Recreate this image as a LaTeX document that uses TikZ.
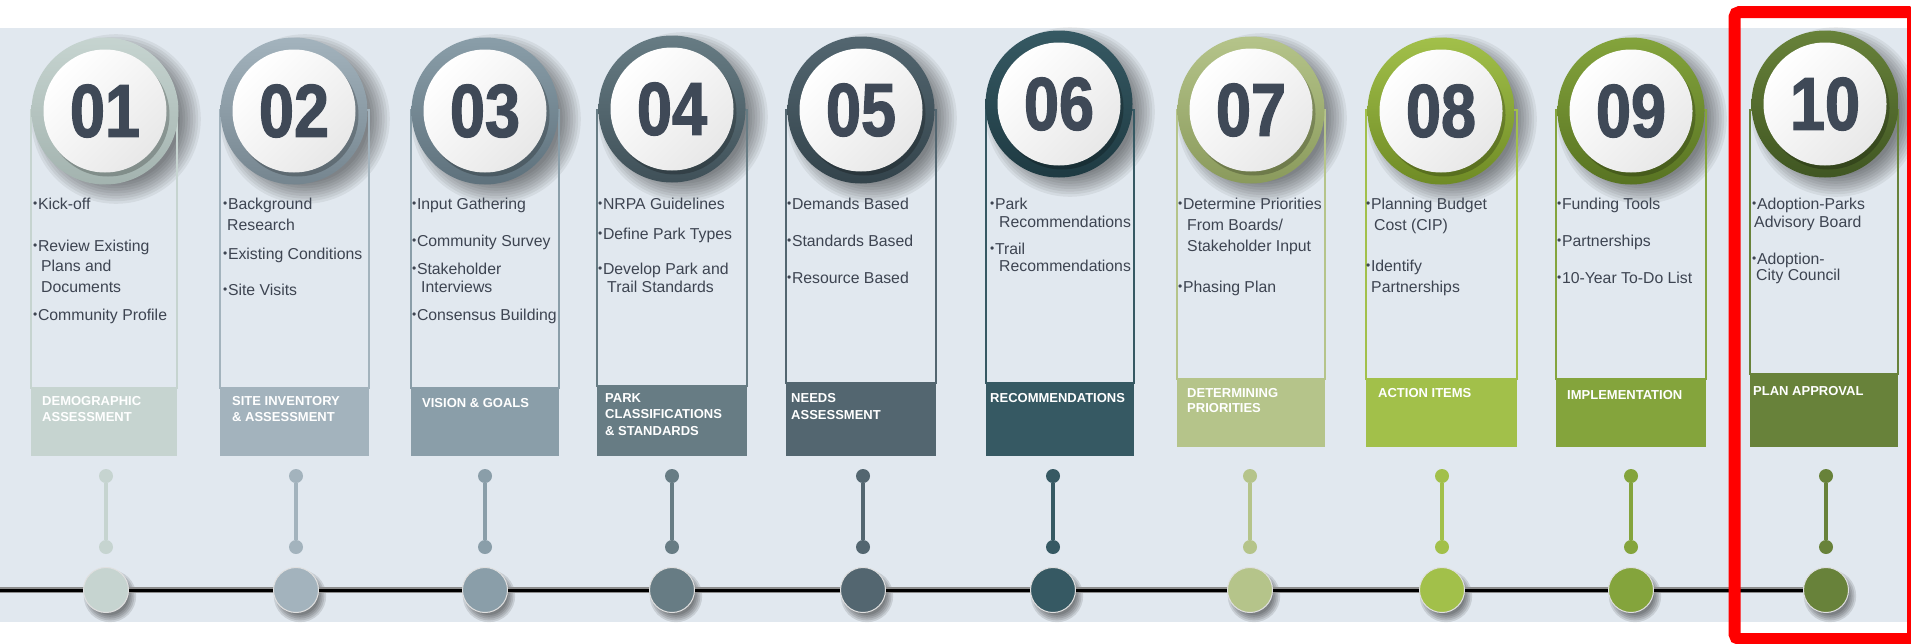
\documentclass[tikz,border=0pt]{standalone}
\usepackage{fontspec}
\usepackage{graphicx}
\setmainfont{Liberation Sans}
\newfontfamily\numfont{Liberation Sans}[FakeStretch=0.84,BoldFeatures={FakeBold=1.6}]
\pgfdeclarelayer{bg}
\pgfdeclarelayer{back}
\pgfsetlayers{bg,back,main}
\definecolor{bgc}{HTML}{E1E8EF}
\definecolor{txt}{HTML}{3D4451}
\definecolor{numc}{HTML}{3F4957}
\definecolor{c01}{HTML}{C6D4D0}\definecolor{d01}{HTML}{A3B3AF}
\definecolor{c02}{HTML}{A3B3BD}\definecolor{d02}{HTML}{75858F}
\definecolor{c03}{HTML}{8A9EA9}\definecolor{d03}{HTML}{5E717C}
\definecolor{c04}{HTML}{677C84}\definecolor{d04}{HTML}{3F5058}
\definecolor{c05}{HTML}{536670}\definecolor{d05}{HTML}{33434B}
\definecolor{c06}{HTML}{365963}\definecolor{d06}{HTML}{1E3A42}
\definecolor{c07}{HTML}{B5C48A}\definecolor{d07}{HTML}{8A9A5C}
\definecolor{c08}{HTML}{A2C04A}\definecolor{d08}{HTML}{6F8B25}
\definecolor{c09}{HTML}{84A43C}\definecolor{d09}{HTML}{587322}
\definecolor{c10}{HTML}{68823A}\definecolor{d10}{HTML}{405622}
\newcommand\blk[2]{\vtop{\baselineskip=#1pt\relax\lineskiplimit=-20pt\relax #2}}
\newcommand\Row[2][0]{\hbox{\hskip#1pt #2}}
\newcommand\bul{\raisebox{1.7pt}{\fontsize{12}{12}\selectfont\textbullet}\hskip0.6pt}
\begin{document}
\begin{tikzpicture}[x=1pt,y=-1pt,
  ring/.style={circle,minimum size=147pt,inner sep=0pt,shading angle=45},
  face/.style={circle,minimum size=123pt,inner sep=0pt,top color=white,bottom color=black!9,shading angle=45},
  num/.style={inner sep=0pt,text=numc,font=\numfont\bfseries\fontsize{75}{75}\selectfont},
  dot/.style={circle,minimum size=14pt,inner sep=0pt},
  big/.style={circle,minimum size=45pt,inner sep=0pt,draw=black!12,line width=1pt},
  softsh/.style={fill=black,opacity=0.06},
  dotsh/.style={fill=black,opacity=0.11},
  item/.style={anchor=base west,inner sep=0pt,text=txt,font=\fontsize{15.8}{19}\selectfont},
  lab/.style={anchor=base west,inner sep=0pt,text=white,font=\fontsize{13}{16}\selectfont\bfseries}]
\useasboundingbox (0,0) rectangle (1911,643);
\begin{pgfonlayer}{bg}
\fill[white] (0,0) rectangle (1911,643);
\fill[bgc] (0,28) rectangle (1907,622);
\end{pgfonlayer}
\coordinate (tl0) at (0,590);
\foreach \n/\cx/\cy/\l/\r/\bt/\bb/\sx in {
 01/105/111/31/177/388/456/106,
 02/294/111/220/369/388/456/296,
 03/485/111/411/559/388/456/485,
 04/672/109/597/747/386/456/672,
 05/861/110/786/936/383/456/863,
 06/1059/104/986/1134/383/456/1053,
 07/1251/110/1177/1325/379/447/1250,
 08/1441/111/1366/1517/379/447/1442,
 09/1631/111/1556/1706/379/447/1631,
 10/1825/104/1750/1898/374/447/1826}{
  \begin{pgfonlayer}{back}
   \foreach \k in {0,...,8}{
     \path[softsh] (\cx+11,\cy+8) circle[radius=64pt+2.6pt*\k];
   }
   \foreach \k in {0,...,4}{
     \path[dotsh] (\sx+4,596) circle[radius=19pt+1.8pt*\k];
   }
  \end{pgfonlayer}
  \draw[c\n,line width=1.2pt] (\l,110) rectangle (\r,\bt);
  \fill[c\n] (\l,\bt) rectangle (\r,\bb);
  \node[ring,top color=c\n,bottom color=d\n] (r\n) at (\cx,\cy) {};
  \fill[black,opacity=.22] (\cx+3,\cy+4) circle (61.5pt);
  \node[face] (w\n) at (\cx,\cy) {};
  \node[num] (n\n) at (\cx,\cy) {\n};
  \node[dot,fill=c\n] (ta\n) at (\sx,476) {};
  \node[dot,fill=c\n] (tb\n) at (\sx,547) {};
  \draw[c\n,line width=4pt] (ta\n) -- (tb\n);
  \node[big,fill=c\n] (b\n) at (\sx,590) {};
}
\begin{pgfonlayer}{back}
\draw[line width=6pt,draw=black!45] (tl0) -- (b10);
\draw[line width=3pt,draw=black] (tl0) -- (b10);
\end{pgfonlayer}
% labels
\node[lab] (l01) at (42,405) {\blk{16}{\Row{DEMOGRAPHIC}\Row{ASSESSMENT}}};
\node[lab] (l02) at (232,405) {\blk{16}{\Row{SITE INVENTORY}\Row{\& ASSESSMENT}}};
\node[lab] (l03) at (422,407) {VISION \& GOALS};
\node[lab] (l04) at (605,402) {\blk{16.5}{\Row{PARK}\Row{CLASSIFICATIONS}\Row{\& STANDARDS}}};
\node[lab] (l05) at (791,402) {\blk{17.5}{\Row{NEEDS}\Row{ASSESSMENT}}};
\node[lab] (l06) at (990,402) {RECOMMENDATIONS};
\node[lab] (l07) at (1187,397) {\blk{15.5}{\Row{DETERMINING}\Row{PRIORITIES}}};
\node[lab] (l08) at (1378,397) {ACTION ITEMS};
\node[lab] (l09) at (1567,399) {IMPLEMENTATION};
\node[lab] (l10) at (1753,395) {PLAN APPROVAL};
% items
\node[item] (i01a) at (33,209) {\bul Kick-off};
\node[item] (i01b) at (33,251) {\blk{20.5}{\Row{\bul Review Existing}\Row[8]{Plans and}\Row[8]{Documents}}};
\node[item] (i01c) at (33,320) {\bul Community Profile};
\node[item] (i02a) at (223,209) {\blk{21}{\Row{\bul Background}\Row[4]{Research}}};
\node[item] (i02b) at (223,259) {\bul Existing Conditions};
\node[item] (i02c) at (223,295) {\bul Site Visits};
\node[item] (i03a) at (412,209) {\bul Input Gathering};
\node[item] (i03b) at (412,246) {\bul Community Survey};
\node[item] (i03c) at (412,274) {\blk{18}{\Row{\bul Stakeholder}\Row[9]{Interviews}}};
\node[item] (i03d) at (412,320) {\bul Consensus Building};
\node[item] (i04a) at (598,209) {\bul NRPA Guidelines};
\node[item] (i04b) at (598,239) {\bul Define Park Types};
\node[item] (i04c) at (598,274) {\blk{18}{\Row{\bul Develop Park and}\Row[9]{Trail Standards}}};
\node[item] (i05a) at (787,209) {\bul Demands Based};
\node[item] (i05b) at (787,246) {\bul Standards Based};
\node[item] (i05c) at (787,283) {\bul Resource Based};
\node[item] (i06a) at (990,209) {\blk{18}{\Row{\bul Park}\Row[9]{Recommendations}}};
\node[item] (i06b) at (990,254) {\blk{17}{\Row{\bul Trail}\Row[9]{Recommendations}}};
\node[item] (i07a) at (1178,209) {\blk{21}{\Row{\bul Determine Priorities}\Row[9]{From Boards/}\Row[9]{Stakeholder Input}}};
\node[item] (i07b) at (1178,292) {\bul Phasing Plan};
\node[item] (i08a) at (1366,209) {\blk{21}{\Row{\bul Planning Budget}\Row[8]{Cost (CIP)}}};
\node[item] (i08b) at (1366,271) {\blk{21}{\Row{\bul Identify}\Row[5]{Partnerships}}};
\node[item] (i09a) at (1557,209) {\bul Funding Tools};
\node[item] (i09b) at (1557,246) {\bul Partnerships};
\node[item] (i09c) at (1557,283) {\bul 10-Year To-Do List};
\node[item] (i10a) at (1752,209) {\blk{18}{\Row{\bul Adoption-Parks}\Row[2]{Advisory Board}}};
\node[item] (i10b) at (1752,264) {\blk{16.5}{\Row{\bul Adoption-}\Row[4]{City Council}}};
% highlight box
\draw[red,line width=12pt,rounded corners=5pt] (1734.5,12) rectangle (1913,639);
\end{tikzpicture}
\end{document}
